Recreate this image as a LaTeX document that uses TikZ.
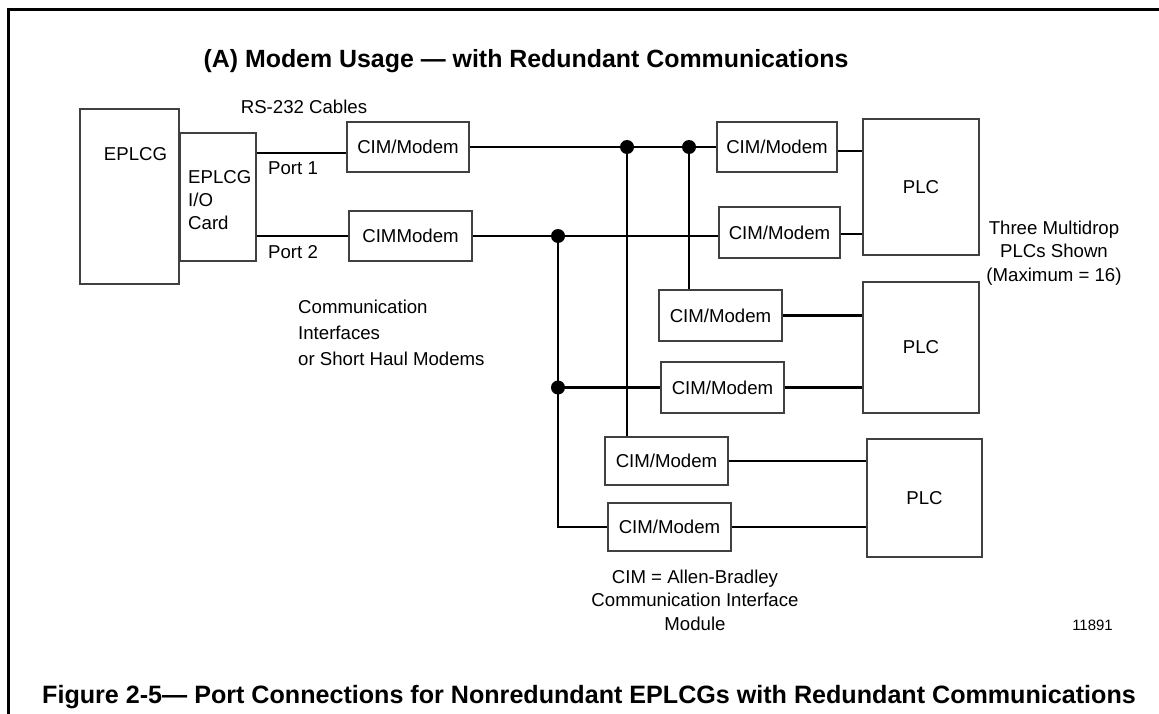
\documentclass[tikz,border=0pt]{standalone}
\usepackage{fontspec}
\setmainfont{Liberation Sans}
\usetikzlibrary{calc}
\begin{document}
\begin{tikzpicture}[x=1bp,y=-1bp,
  box/.style={draw=black!75,line width=1.4bp,inner sep=0pt,font=\fontsize{18.7}{23}\selectfont},
  wire/.style={line width=2.2bp,black},
  junction/.style={circle,fill=black,inner sep=0pt,minimum size=14bp},
  lbl/.style={inner sep=0pt,font=\fontsize{18.7}{23.5}\selectfont},
  heading/.style={inner sep=0pt,font=\fontsize{25}{28}\selectfont\bfseries}]
\useasboundingbox (0,0) rectangle (1159,714);

% page frame (left and top rules)
\draw[line width=3bp] (8,714) -- (8,10) -- (1159,10);

% headings
\node[heading] (title) at (526,61) {(A) Modem Usage — with Redundant Communications};
\node[heading,font=\fontsize{25.2}{28}\selectfont\bfseries] (caption) at (589,697) {Figure 2-5— Port Connections for Nonredundant EPLCGs with Redundant Communications};

% gateway and its I/O card
\node[box,minimum width=99bp,minimum height=175bp] (eplcg) at (129.5,196.5) {};
\node[lbl] (eplcgtext) at (135.5,154) {EPLCG};
\node[box,minimum width=76bp,minimum height=128bp] (io) at (218,197) {};
\node[lbl,anchor=west,align=left,font=\fontsize{18.7}{23}\selectfont] (iotext) at (188,200) {EPLCG\\I/O\\Card};

% modems
\node[box,minimum width=122bp,minimum height=50bp] (c1) at (408,147) {CIM/Modem};
\node[box,minimum width=123bp,minimum height=50bp] (c2) at (410.5,236) {CIMModem};
\node[box,minimum width=120bp,minimum height=50bp] (c3) at (777,147) {CIM/Modem};
\node[box,minimum width=121bp,minimum height=51bp] (c4) at (779.5,232.5) {CIM/Modem};
\node[box,minimum width=123bp,minimum height=51bp] (c5) at (720.5,315.5) {CIM/Modem};
\node[box,minimum width=123bp,minimum height=51bp] (c6) at (722.5,387.5) {CIM/Modem};
\node[box,minimum width=123bp,minimum height=48bp] (c7) at (666.5,461) {CIM/Modem};
\node[box,minimum width=123bp,minimum height=48bp] (c8) at (669.5,527) {CIM/Modem};

% PLCs
\node[box,minimum width=116bp,minimum height=136bp] (plc1) at (921,187) {PLC};
\node[box,minimum width=116bp,minimum height=131bp] (plc2) at (921,347.5) {PLC};
\node[box,minimum width=115bp,minimum height=118bp] (plc3) at (924.5,498) {PLC};

% labels
\node[lbl] (rs232) at (304,107) {RS-232 Cables};
\node[lbl,anchor=west] (port1) at (268,168) {Port 1};
\node[lbl,anchor=west] (port2) at (268,252) {Port 2};
\node[lbl,anchor=west,align=left,font=\fontsize{18.7}{26}\selectfont] (ciminfo) at (298,333) {Communication\\Interfaces\\or Short Haul Modems};
\node[lbl,align=center] (multidrop) at (1054,253) {Three Multidrop\\PLCs Shown\\(Maximum = 16)};
\node[lbl,align=center] (cimdef) at (695,600) {CIM = Allen-Bradley\\Communication Interface\\Module};
\node[lbl,font=\fontsize{15}{18}\selectfont] (fignum) at (1092.5,625) {11891};

% bus junctions
\coordinate (j1) at (627,147);
\coordinate (j2) at (689,147);
\coordinate (j3) at (558,236);
\coordinate (j4) at (558,387.5);

% RS-232 cables
\draw[wire] (io.east |- 0,153) -- (c1.west |- 0,153);
\draw[wire] (io.east |- 0,236) -- (c2.west);

% line 1 bus
\draw[wire] (c1.east) -- (c3.west);
\draw[wire] (j1) -- (j1 |- c7.north);
\draw[wire] (j2) -- (j2 |- c5.north);

% line 2 bus
\draw[wire] (c2.east) -- (c2.east -| c4.west);
\draw[wire] (j3) |- (c8.west);
\draw[wire] (j4) -- (c6.west);

% modem to PLC links
\draw[wire] (c3.east |- 0,151) -- (plc1.west |- 0,151);
\draw[wire] (c4.east |- 0,234) -- (plc1.west |- 0,234);
\draw[wire] (c5.east) -- (c5.east -| plc2.west);
\draw[wire] (c6.east) -- (c6.east -| plc2.west);
\draw[wire] (c7.east) -- (c7.east -| plc3.west);
\draw[wire] (c8.east) -- (c8.east -| plc3.west);

% junction dots
\foreach \j in {j1,j2,j3,j4} \node[junction] at (\j) {};
\end{tikzpicture}
\end{document}
